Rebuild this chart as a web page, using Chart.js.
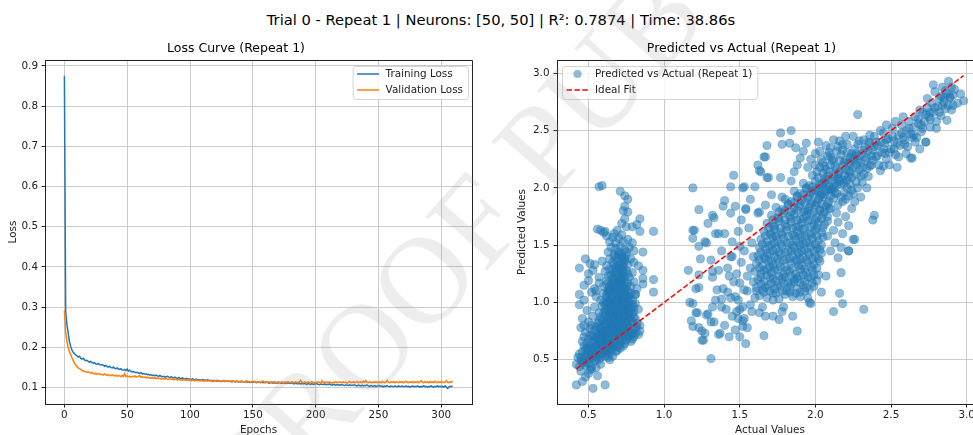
<!DOCTYPE html>
<html>
<head>
<meta charset="utf-8">
<script src="https://cdn.jsdelivr.net/npm/chart.js@4.4.0/dist/chart.umd.min.js"></script>
<style>
  html, body { margin: 0; padding: 0; background: #fff; overflow: hidden; }
  body { width: 973px; height: 435px; position: relative; }
  #suptitle { position: absolute; left: 0; top: 11px; width: 1002px; text-align: center;
    font: 14.7px 'DejaVu Sans', sans-serif; line-height: 18px; color: #000; white-space: nowrap; }
  #lossCanvas { position: absolute; left: 0; top: 0; }
  #scatterCanvas { position: absolute; left: 500px; top: 0; }
  #stamp { position: absolute; left: 121px; top: 181px; font: 124px 'Liberation Serif', serif; line-height: 124px;
    color: rgba(140,140,140,0.16); transform: rotate(-48.5deg); transform-origin: center; white-space: nowrap;
    pointer-events: none; }
</style>
</head>
<body>
<div id="suptitle">Trial 0 - Repeat 1 | Neurons: [50, 50] | R²: 0.7874 | Time: 38.86s</div>
<canvas id="lossCanvas" width="500" height="445"></canvas>
<canvas id="scatterCanvas" width="502" height="445"></canvas>
<div id="stamp">PROOF PUB</div>
<script>
// ---- data ----
const trainLoss = [
  0.876,0.287,0.258,0.236,0.214,0.203,0.193,0.188,0.184,0.181,
  0.179,0.176,0.178,0.173,0.171,0.173,0.169,0.167,0.168,0.165,
  0.163,0.165,0.162,0.160,0.162,0.159,0.158,0.160,0.157,0.156,
  0.157,0.155,0.153,0.155,0.152,0.151,0.153,0.150,0.149,0.151,
  0.148,0.147,0.149,0.146,0.145,0.147,0.144,0.143,0.145,0.142,
  0.146,0.141,0.143,0.140,0.139,0.140,0.138,0.137,0.138,0.136,
  0.135,0.137,0.134,0.135,0.133,0.134,0.132,0.133,0.131,0.132,
  0.130,0.131,0.129,0.131,0.129,0.128,0.130,0.128,0.127,0.128,
  0.126,0.127,0.128,0.126,0.125,0.127,0.125,0.124,0.126,0.124,
  0.123,0.125,0.123,0.122,0.124,0.122,0.121,0.123,0.121,0.122,
  0.121,0.120,0.122,0.120,0.119,0.121,0.119,0.120,0.118,0.119,
  0.120,0.118,0.119,0.117,0.119,0.118,0.117,0.118,0.116,0.118,
  0.117,0.116,0.118,0.116,0.117,0.115,0.117,0.116,0.115,0.117,
  0.116,0.115,0.116,0.114,0.116,0.115,0.114,0.116,0.114,0.115,
  0.114,0.116,0.114,0.113,0.115,0.114,0.113,0.115,0.113,0.114,
  0.113,0.115,0.113,0.112,0.114,0.113,0.112,0.114,0.112,0.113,
  0.112,0.114,0.112,0.111,0.113,0.112,0.111,0.113,0.111,0.112,
  0.111,0.113,0.111,0.110,0.112,0.111,0.110,0.112,0.110,0.111,
  0.110,0.112,0.110,0.109,0.111,0.110,0.109,0.111,0.109,0.110,
  0.109,0.111,0.109,0.108,0.110,0.109,0.108,0.110,0.108,0.109,
  0.109,0.110,0.108,0.107,0.109,0.108,0.107,0.109,0.107,0.108,
  0.107,0.109,0.107,0.106,0.108,0.107,0.106,0.108,0.106,0.107,
  0.106,0.108,0.106,0.105,0.107,0.106,0.105,0.107,0.105,0.106,
  0.106,0.107,0.105,0.104,0.106,0.105,0.104,0.106,0.104,0.105,
  0.105,0.106,0.104,0.103,0.105,0.104,0.103,0.105,0.103,0.104,
  0.104,0.105,0.103,0.104,0.102,0.104,0.103,0.105,0.103,0.102,
  0.104,0.103,0.102,0.104,0.103,0.102,0.104,0.102,0.103,0.104,
  0.102,0.103,0.104,0.102,0.103,0.101,0.103,0.104,0.102,0.103,
  0.102,0.104,0.103,0.101,0.103,0.102,0.104,0.102,0.103,0.101,
  0.103,0.102,0.104,0.102,0.101,0.103,0.102,0.104,0.102,0.103,
  0.102,0.103,0.101,0.104,0.102,0.098,0.101,0.103,0.102,0.104
];
const valLoss = [
  0.292,0.238,0.214,0.200,0.190,0.182,0.174,0.167,0.161,0.156,
  0.152,0.149,0.147,0.145,0.143,0.141,0.140,0.139,0.138,0.139,
  0.137,0.136,0.138,0.135,0.134,0.136,0.133,0.134,0.135,0.132,
  0.133,0.131,0.134,0.132,0.130,0.132,0.131,0.129,0.132,0.130,
  0.129,0.131,0.128,0.130,0.129,0.127,0.130,0.128,0.135,0.127,
  0.129,0.127,0.128,0.126,0.128,0.127,0.129,0.126,0.127,0.128,
  0.130,0.125,0.127,0.125,0.126,0.124,0.126,0.124,0.125,0.123,
  0.125,0.123,0.124,0.122,0.124,0.122,0.123,0.121,0.123,0.122,
  0.121,0.123,0.121,0.120,0.122,0.120,0.121,0.119,0.121,0.120,
  0.119,0.121,0.119,0.120,0.118,0.120,0.119,0.118,0.120,0.118,
  0.119,0.117,0.119,0.118,0.117,0.119,0.117,0.118,0.116,0.118,
  0.117,0.116,0.118,0.117,0.116,0.118,0.116,0.117,0.115,0.117,
  0.116,0.118,0.116,0.115,0.117,0.115,0.116,0.118,0.115,0.116,
  0.115,0.117,0.115,0.116,0.114,0.116,0.115,0.117,0.115,0.114,
  0.116,0.114,0.115,0.113,0.115,0.117,0.114,0.115,0.113,0.115,
  0.114,0.116,0.114,0.113,0.115,0.114,0.113,0.115,0.116,0.114,
  0.113,0.115,0.113,0.114,0.112,0.114,0.113,0.115,0.113,0.112,
  0.114,0.113,0.112,0.114,0.113,0.112,0.114,0.113,0.115,0.113,
  0.112,0.114,0.113,0.112,0.114,0.113,0.112,0.114,0.118,0.113,
  0.112,0.114,0.113,0.112,0.114,0.112,0.113,0.115,0.113,0.112,
  0.113,0.112,0.114,0.113,0.111,0.117,0.113,0.112,0.114,0.113,
  0.112,0.114,0.113,0.111,0.113,0.112,0.114,0.113,0.112,0.114,
  0.113,0.112,0.114,0.112,0.113,0.111,0.113,0.115,0.112,0.113,
  0.114,0.112,0.113,0.115,0.112,0.113,0.114,0.112,0.116,0.113,
  0.117,0.113,0.112,0.114,0.113,0.112,0.114,0.113,0.115,0.112,
  0.113,0.114,0.112,0.115,0.113,0.112,0.114,0.118,0.113,0.112,
  0.114,0.113,0.115,0.112,0.114,0.113,0.112,0.115,0.113,0.114,
  0.112,0.114,0.116,0.113,0.112,0.114,0.113,0.115,0.112,0.114,
  0.113,0.115,0.112,0.114,0.117,0.113,0.112,0.115,0.113,0.114,
  0.112,0.115,0.113,0.114,0.112,0.116,0.113,0.112,0.114,0.113,
  0.115,0.113,0.112,0.114,0.117,0.113,0.112,0.114,0.113,0.116
];
const epochTicks = [0, 50, 100, 150, 200, 250, 300];
const lossTicks = [0.1, 0.2, 0.3, 0.4, 0.5, 0.6, 0.7, 0.8, 0.9];

// [actual, predicted]
const predVsActual = [
  // low group
  [0.42,0.28],[0.46,0.31],[0.53,0.25],[0.61,0.28],[0.56,0.36],[0.50,0.38],[0.45,0.40],[0.52,0.42],[0.48,0.35],
  [0.42,0.46],[0.44,0.44],[0.46,0.48],[0.48,0.45],[0.50,0.47],[0.52,0.44],[0.54,0.49],[0.47,0.50],[0.51,0.41],
  [0.55,0.43],[0.58,0.46],[0.45,0.49],[0.49,0.52],[0.43,0.52],
  [0.44,0.55],[0.46,0.57],[0.48,0.54],[0.50,0.58],[0.52,0.53],[0.53,0.57],[0.55,0.55],[0.56,0.59],[0.58,0.52],
  [0.60,0.56],[0.62,0.58],[0.57,0.50],[0.49,0.60],[0.47,0.62],[0.51,0.62],[0.54,0.61],[0.59,0.60],[0.61,0.53],
  [0.63,0.55],[0.65,0.59],[0.64,0.50],[0.68,0.57],[0.66,0.53],
  [0.46,0.66],[0.50,0.68],[0.52,0.65],[0.53,0.70],[0.55,0.64],[0.56,0.68],[0.57,0.62],[0.58,0.66],[0.59,0.70],
  [0.60,0.63],[0.61,0.67],[0.62,0.61],[0.63,0.69],[0.64,0.64],[0.65,0.67],[0.66,0.62],[0.67,0.70],[0.68,0.65],
  [0.69,0.61],[0.70,0.68],[0.71,0.63],[0.72,0.67],[0.74,0.64],[0.76,0.69],[0.78,0.66],[0.47,0.70],[0.49,0.64],
  [0.54,0.67],[0.80,0.70],
  [0.45,0.78],[0.48,0.74],[0.51,0.77],[0.53,0.72],[0.55,0.79],[0.56,0.74],[0.57,0.71],[0.58,0.77],[0.59,0.73],
  [0.60,0.79],[0.61,0.72],[0.62,0.76],[0.63,0.71],[0.64,0.78],[0.65,0.73],[0.66,0.77],[0.67,0.72],[0.68,0.79],
  [0.69,0.74],[0.70,0.71],[0.71,0.77],[0.72,0.73],[0.73,0.79],[0.74,0.75],[0.75,0.71],[0.76,0.78],[0.77,0.74],
  [0.79,0.76],[0.81,0.73],[0.82,0.79],[0.84,0.75],[0.47,0.80],[0.52,0.80],
  [0.46,0.86],[0.50,0.83],[0.53,0.88],[0.56,0.82],[0.58,0.87],[0.60,0.84],[0.61,0.89],[0.62,0.81],[0.63,0.86],
  [0.64,0.83],[0.65,0.88],[0.66,0.81],[0.67,0.85],[0.68,0.89],[0.69,0.82],[0.70,0.87],[0.71,0.84],[0.72,0.80],
  [0.73,0.88],[0.74,0.83],[0.75,0.86],[0.76,0.81],[0.77,0.89],[0.78,0.84],[0.80,0.87],[0.82,0.82],[0.84,0.80],
  [0.79,0.90],
  [0.44,0.98],[0.49,0.93],[0.54,0.96],[0.57,0.91],[0.59,0.97],[0.61,0.93],[0.62,0.99],[0.63,0.92],[0.64,0.96],
  [0.65,0.90],[0.66,0.98],[0.67,0.94],[0.68,0.91],[0.69,0.97],[0.70,0.93],[0.71,0.99],[0.72,0.95],[0.73,0.91],
  [0.74,0.97],[0.75,0.93],[0.76,0.99],[0.77,0.95],[0.78,0.92],[0.80,0.96],[0.81,0.99],[0.83,0.94],[0.60,1.00],
  [0.44,1.07],[0.47,1.02],[0.55,1.05],[0.58,1.02],[0.60,1.08],[0.62,1.04],[0.63,1.09],[0.64,1.01],[0.65,1.06],
  [0.66,1.03],[0.67,1.08],[0.68,1.00],[0.69,1.05],[0.70,1.02],[0.71,1.07],[0.72,1.04],[0.73,1.09],[0.74,1.01],
  [0.75,1.06],[0.76,1.03],[0.78,1.08],[0.79,1.02],[0.81,1.07],[0.55,1.10],[0.52,1.09],
  [0.47,1.15],[0.50,1.19],[0.54,1.12],[0.57,1.17],[0.60,1.14],[0.62,1.19],[0.63,1.11],[0.65,1.16],[0.66,1.13],
  [0.67,1.18],[0.68,1.12],[0.69,1.17],[0.70,1.14],[0.71,1.10],[0.72,1.19],[0.73,1.15],[0.74,1.12],[0.76,1.17],
  [0.78,1.14],[0.80,1.18],[0.82,1.12],[0.86,1.16],
  [0.50,1.25],[0.53,1.28],[0.57,1.22],[0.61,1.27],[0.63,1.23],[0.64,1.29],[0.66,1.21],[0.67,1.26],[0.69,1.24],
  [0.70,1.29],[0.71,1.21],[0.72,1.27],[0.73,1.23],[0.75,1.28],[0.77,1.22],[0.79,1.26],[0.86,1.21],[0.86,1.28],
  [0.93,1.20],[0.44,1.30],[0.51,1.34],[0.93,1.09],[0.81,1.07],
  [0.48,1.38],[0.54,1.33],[0.59,1.36],[0.62,1.32],[0.64,1.38],[0.66,1.35],[0.68,1.31],[0.69,1.39],[0.71,1.34],
  [0.72,1.37],[0.73,1.31],[0.74,1.36],[0.76,1.33],[0.78,1.38],[0.80,1.35],[0.83,1.32],
  [0.63,1.44],[0.65,1.48],[0.67,1.42],[0.68,1.47],[0.70,1.44],[0.71,1.49],[0.72,1.42],[0.74,1.46],[0.75,1.41],
  [0.77,1.48],[0.86,1.44],[0.80,1.45],
  [0.64,1.53],[0.66,1.57],[0.68,1.52],[0.70,1.56],[0.72,1.59],[0.73,1.53],[0.76,1.55],[0.62,1.58],[0.79,1.52],
  [0.57,2.01],[0.59,2.02],[0.71,1.97],[0.74,1.93],[0.76,1.90],[0.74,1.84],[0.73,1.80],[0.76,1.79],[0.84,1.73],
  [0.74,1.73],[0.56,1.64],[0.58,1.63],[0.61,1.62],[0.69,1.63],[0.82,1.68],[0.84,1.62],[0.93,1.62],[0.72,1.69],
  [0.75,1.66],[0.79,1.66],[0.60,1.61],[0.67,1.60],
  // low group, dense core
  [0.47,0.47],[0.49,0.49],[0.51,0.51],[0.53,0.52],[0.55,0.50],[0.57,0.54],[0.59,0.55],[0.61,0.57],[0.63,0.52],
  [0.50,0.55],[0.45,0.52],[0.54,0.56],
  [0.48,0.59],[0.52,0.60],[0.55,0.62],[0.57,0.58],[0.59,0.63],[0.61,0.60],[0.63,0.62],[0.65,0.57],[0.67,0.61],
  [0.69,0.58],[0.71,0.60],[0.73,0.62],[0.56,0.56],[0.60,0.58],[0.64,0.60],
  [0.51,0.71],[0.55,0.69],[0.57,0.66],[0.59,0.68],[0.61,0.70],[0.63,0.66],[0.65,0.70],[0.67,0.67],[0.69,0.71],
  [0.71,0.66],[0.73,0.70],[0.75,0.67],[0.77,0.71],[0.79,0.68],[0.58,0.72],[0.62,0.64],[0.66,0.65],
  [0.54,0.76],[0.57,0.78],[0.59,0.75],[0.61,0.79],[0.63,0.75],[0.65,0.78],[0.67,0.75],[0.69,0.78],[0.71,0.74],
  [0.73,0.77],[0.75,0.74],[0.77,0.78],[0.79,0.73],[0.81,0.77],[0.83,0.72],[0.60,0.73],[0.66,0.80],[0.70,0.80],
  [0.59,0.85],[0.61,0.82],[0.63,0.84],[0.65,0.81],[0.67,0.87],[0.69,0.85],[0.71,0.82],[0.73,0.85],[0.75,0.82],
  [0.77,0.86],[0.79,0.83],[0.81,0.86],[0.57,0.84],[0.64,0.88],[0.70,0.88],[0.74,0.88],
  [0.60,0.91],[0.62,0.94],[0.64,0.90],[0.66,0.94],[0.68,0.96],[0.70,0.90],[0.72,0.92],[0.74,0.94],[0.76,0.91],
  [0.78,0.95],[0.80,0.92],[0.65,0.96],[0.69,0.93],[0.73,0.95],
  [0.61,0.98],[0.63,1.01],[0.65,0.98],[0.67,1.00],[0.69,1.02],[0.71,0.97],[0.73,1.00],[0.75,0.98],[0.77,1.01],
  [0.79,0.98],[0.64,1.03],[0.68,0.97],[0.72,1.03],[0.76,1.04],
  [0.62,1.07],[0.64,1.10],[0.66,1.07],[0.68,1.09],[0.70,1.06],[0.72,1.10],[0.74,1.07],[0.76,1.10],[0.65,1.12],
  [0.69,1.12],[0.73,1.12],[0.77,1.06],
  [0.64,1.14],[0.66,1.17],[0.68,1.15],[0.70,1.18],[0.72,1.15],[0.74,1.18],[0.75,1.14],[0.67,1.20],[0.71,1.20],
  [0.62,1.16],
  [0.65,1.24],[0.68,1.27],[0.70,1.23],[0.72,1.25],[0.74,1.22],[0.76,1.25],[0.66,1.29],[0.71,1.30],[0.73,1.28],
  [0.67,1.33],[0.69,1.36],[0.70,1.32],[0.72,1.40],[0.74,1.38],[0.67,1.40],[0.70,1.42],[0.75,1.44],[0.73,1.34],
  // middle group, sparse left side
  [1.31,0.51],[1.18,0.84],[1.19,0.79],[1.23,0.78],[1.25,0.75],[1.26,0.67],[1.27,0.73],[1.31,0.83],[1.22,0.91],
  [1.28,0.89],[1.33,0.83],[1.36,0.72],[1.17,1.00],[1.21,1.12],[1.23,1.24],[1.16,1.28],[1.24,1.38],[1.31,1.37],
  [1.32,1.22],[1.32,0.96],[1.34,1.02],[1.35,1.11],[1.38,0.96],[1.38,1.03],[1.44,1.04],[1.42,1.09],[1.49,1.02],
  [1.48,0.92],[1.49,0.86],[1.54,0.64],[1.43,1.23],[1.50,1.17],[1.45,1.40],[1.19,1.56],[1.23,1.49],[1.28,1.52],
  [1.34,1.60],[1.19,1.63],[1.19,2.00],[1.23,1.81],[1.20,1.63],[1.27,1.53],[1.32,1.27],[1.23,1.13],[1.19,0.99],
  [1.21,0.91],[1.25,0.67],[1.29,0.90],[1.37,0.73],[1.66,0.71],[1.29,1.69],[1.32,1.76],[1.33,1.74],[1.36,1.60],
  [1.39,1.84],[1.40,1.89],[1.44,1.78],[1.47,1.84],[1.46,2.11],[1.44,2.01],[1.52,2.00],[1.57,1.90],[1.62,1.78],
  [1.54,1.81],[1.51,1.72],[1.53,2.01],[1.60,2.01],[1.54,1.82],[1.63,1.79],[1.67,1.85],
  [1.40,0.80],[1.43,0.70],[1.45,0.88],[1.47,0.76],[1.50,0.70],[1.52,0.84],[1.55,0.78],[1.57,0.98],[1.41,0.94],
  [1.39,1.12],[1.42,1.30],[1.46,1.18],[1.48,1.25],[1.51,1.35],[1.53,1.45],[1.55,1.23],[1.57,1.30],[1.58,1.52],
  [1.45,1.53],[1.38,1.45],[1.36,1.28],[1.40,1.60],[1.49,1.62],[1.56,1.65],[1.59,1.40],[1.55,1.10],[1.59,1.18],
  [1.47,1.05],[1.44,1.40],[1.50,1.49],
  [1.53,1.11],[1.60,1.04],[1.65,0.96],[1.63,0.91],[1.72,0.88],[1.76,0.85],[1.67,0.88],[1.78,0.92],[1.72,1.02],
  [1.79,0.96],[1.90,1.05],[1.96,1.00],[1.52,0.79],[1.53,0.86],[1.58,0.92],[1.61,1.10],[1.52,0.96],[1.50,0.94],
  [1.88,0.75],[1.85,0.88],[2.12,0.92],[2.32,0.94],[2.18,0.99],[1.97,0.99],[2.04,1.09],[2.16,1.08],[2.17,1.26],
  [2.07,1.23],[2.15,1.39],[2.22,1.45],[2.25,1.55],
  // middle group, upper sparse
  [1.77,2.48],[1.84,2.50],[1.78,2.38],[1.83,2.39],[1.87,2.35],[1.94,2.39],[2.02,2.40],[1.68,2.37],[1.66,2.27],
  [1.62,2.20],[1.63,2.15],[1.68,2.09],[1.77,2.09],[1.84,2.06],[1.71,1.94],[1.78,1.92],[1.86,2.14],[1.69,2.09],
  [1.67,2.27],[1.64,2.14],[1.90,2.26],[1.97,2.25],[1.92,2.32],[2.00,2.30],[1.88,2.20],[1.95,2.18],
  // middle group, dense core
  [1.63,1.06],[1.68,1.04],[1.72,1.08],[1.76,1.03],[1.80,1.07],[1.85,1.05],[1.90,1.09],[1.95,1.04],
  [1.61,1.13],[1.65,1.11],[1.69,1.15],[1.73,1.12],[1.77,1.14],[1.81,1.10],[1.84,1.16],[1.88,1.12],[1.92,1.15],
  [1.96,1.11],[1.99,1.14],
  [1.62,1.20],[1.66,1.18],[1.70,1.22],[1.74,1.19],[1.78,1.21],[1.82,1.17],[1.86,1.20],[1.89,1.23],[1.93,1.18],
  [1.97,1.21],[2.01,1.19],
  [1.60,1.27],[1.64,1.25],[1.68,1.29],[1.71,1.26],[1.75,1.28],[1.79,1.24],[1.83,1.27],[1.87,1.25],[1.90,1.29],
  [1.94,1.26],[1.98,1.28],[2.02,1.24],
  [1.61,1.34],[1.65,1.32],[1.69,1.36],[1.72,1.33],[1.76,1.35],[1.80,1.31],[1.84,1.34],[1.88,1.36],[1.91,1.32],
  [1.95,1.35],[1.99,1.33],[2.03,1.36],
  [1.62,1.41],[1.66,1.39],[1.70,1.43],[1.73,1.40],[1.77,1.42],[1.81,1.38],[1.85,1.41],[1.89,1.43],[1.92,1.39],
  [1.96,1.42],[2.00,1.40],[2.04,1.43],
  [1.63,1.48],[1.67,1.46],[1.71,1.50],[1.74,1.47],[1.78,1.49],[1.82,1.45],[1.86,1.48],[1.90,1.50],[1.93,1.46],
  [1.97,1.49],[2.01,1.47],
  [1.64,1.55],[1.68,1.53],[1.72,1.57],[1.75,1.54],[1.79,1.56],[1.83,1.52],[1.87,1.55],[1.91,1.57],[1.94,1.53],
  [1.98,1.56],[2.02,1.54],
  [1.66,1.62],[1.70,1.60],[1.73,1.64],[1.77,1.61],[1.81,1.63],[1.85,1.59],[1.88,1.62],[1.92,1.64],[1.96,1.60],
  [2.00,1.63],[2.04,1.61],
  [1.68,1.69],[1.72,1.67],[1.76,1.71],[1.80,1.68],[1.84,1.70],[1.87,1.66],[1.91,1.69],[1.95,1.71],[1.99,1.67],
  [2.02,1.70],[2.06,1.68],
  [1.71,1.76],[1.75,1.74],[1.79,1.78],[1.83,1.75],[1.86,1.77],[1.90,1.73],[1.94,1.76],[1.97,1.78],[2.01,1.74],
  [2.05,1.77],[2.08,1.75],
  [1.74,1.83],[1.78,1.81],[1.82,1.85],[1.86,1.82],[1.89,1.84],[1.93,1.80],[1.96,1.83],[2.00,1.85],[2.03,1.81],
  [2.07,1.84],[2.10,1.82],
  [1.80,1.90],[1.84,1.88],[1.88,1.92],[1.91,1.89],[1.95,1.91],[1.98,1.87],[2.02,1.90],[2.05,1.92],[2.09,1.88],
  [2.12,1.91],
  [1.86,1.97],[1.90,1.95],[1.94,1.99],[1.97,1.96],[2.00,1.98],[2.04,1.94],[2.07,1.97],[2.10,1.99],[2.14,1.95],
  [1.92,2.04],[1.96,2.02],[2.00,2.06],[2.03,2.03],[2.06,2.05],[2.09,2.01],[2.13,2.04],[2.16,2.06],
  [1.98,2.11],[2.02,2.09],[2.05,2.13],[2.08,2.10],[2.12,2.12],[2.15,2.08],[2.19,2.11],
  [2.03,2.18],[2.07,2.16],[2.10,2.20],[2.14,2.17],[2.18,2.19],[2.22,2.15],
  [2.08,1.58],[2.12,1.63],[2.15,1.70],[2.18,1.60],[2.20,1.75],[2.13,1.52],[2.10,1.45],[2.17,1.48],[2.22,1.67],
  [2.24,1.82],[2.14,1.78],[2.18,1.88],[2.22,1.93],
  [1.66,1.09],[1.70,1.10],[1.74,1.08],[1.78,1.10],[1.83,1.09],[1.87,1.08],[1.93,1.10],
  [1.64,1.16],[1.67,1.13],[1.71,1.17],[1.75,1.15],[1.79,1.17],[1.83,1.13],[1.86,1.18],[1.90,1.17],[1.94,1.13],
  [1.98,1.17],
  [1.64,1.22],[1.68,1.24],[1.72,1.21],[1.76,1.23],[1.80,1.22],[1.84,1.23],[1.88,1.21],[1.92,1.24],[1.95,1.22],
  [1.99,1.24],
  [1.63,1.30],[1.66,1.28],[1.70,1.31],[1.73,1.29],[1.77,1.31],[1.81,1.28],[1.85,1.30],[1.89,1.32],[1.93,1.29],
  [1.97,1.31],[2.01,1.30],
  [1.63,1.37],[1.67,1.38],[1.71,1.36],[1.75,1.38],[1.79,1.37],[1.83,1.38],[1.87,1.37],[1.90,1.38],[1.94,1.37],
  [1.98,1.38],[2.02,1.38],
  [1.64,1.44],[1.68,1.43],[1.72,1.45],[1.76,1.44],[1.80,1.44],[1.84,1.45],[1.88,1.44],[1.91,1.45],[1.95,1.44],
  [1.99,1.45],[2.03,1.46],
  [1.65,1.51],[1.69,1.50],[1.73,1.52],[1.77,1.51],[1.81,1.52],[1.85,1.50],[1.89,1.52],[1.92,1.51],[1.96,1.52],
  [2.00,1.51],[2.04,1.50],
  [1.67,1.58],[1.71,1.59],[1.74,1.58],[1.78,1.59],[1.82,1.58],[1.86,1.58],[1.90,1.59],[1.93,1.58],[1.97,1.59],
  [2.01,1.58],[2.05,1.57],
  [1.69,1.65],[1.73,1.66],[1.77,1.65],[1.81,1.66],[1.85,1.65],[1.89,1.66],[1.93,1.65],[1.97,1.66],[2.01,1.65],
  [2.05,1.65],
  [1.72,1.72],[1.76,1.73],[1.80,1.72],[1.84,1.73],[1.88,1.72],[1.92,1.73],[1.96,1.72],[2.00,1.72],[2.04,1.73],
  [2.08,1.71],
  [1.76,1.79],[1.80,1.80],[1.84,1.79],[1.88,1.80],[1.92,1.79],[1.95,1.80],[1.99,1.79],[2.03,1.80],[2.06,1.79],
  [1.82,1.86],[1.86,1.87],[1.90,1.86],[1.93,1.87],[1.97,1.86],[2.01,1.87],[2.04,1.86],[2.08,1.86],
  [1.88,1.93],[1.92,1.94],[1.96,1.93],[1.99,1.94],[2.03,1.93],[2.06,1.94],[2.10,1.93],
  [1.94,2.00],[1.98,2.01],[2.02,2.00],[2.05,2.01],[2.08,1.99],[2.12,2.00],
  [2.01,2.14],[2.04,2.25],[2.06,2.19],[2.09,2.31],[2.11,2.24],[2.13,2.10],[2.15,2.36],[2.17,2.29],[2.19,2.04],
  [2.21,2.38],[2.23,2.27],[2.24,2.09],[2.26,2.34],[2.27,2.20],[2.29,2.41],[2.30,2.10],[2.07,2.37],[2.12,2.42],
  [2.20,2.45],[2.02,1.97],[2.05,2.04],[2.08,2.07],[2.11,1.98],[2.14,2.02],[2.16,2.14],[2.18,2.07],[2.20,1.90],
  [2.23,2.03],[2.25,1.95],[2.27,2.30],[2.00,2.20],[2.03,2.32],[2.10,2.27],[2.18,2.33],[2.22,2.22],[2.28,2.24],
  [2.32,2.33],[2.34,2.17],[2.36,2.39],[2.38,2.24],
  // high group along the diagonal
  [2.20,2.24],[2.22,2.10],[2.24,2.30],[2.25,2.18],[2.27,2.05],[2.28,2.38],[2.30,2.22],[2.31,2.30],[2.32,2.12],
  [2.34,2.26],[2.35,2.40],[2.36,2.19],[2.38,2.33],[2.39,2.45],[2.40,2.27],[2.41,2.37],[2.42,2.20],[2.44,2.31],
  [2.45,2.48],[2.46,2.39],[2.47,2.25],[2.48,2.43],[2.50,2.34],[2.51,2.52],[2.52,2.41],[2.53,2.29],[2.55,2.46],
  [2.56,2.37],[2.57,2.55],[2.58,2.44],[2.60,2.50],[2.61,2.36],[2.62,2.58],[2.63,2.47],[2.64,2.26],[2.65,2.53],
  [2.66,2.62],[2.67,2.44],[2.68,2.56],[2.70,2.49],[2.71,2.66],[2.72,2.58],[2.73,2.40],[2.74,2.70],[2.75,2.62],
  [2.76,2.53],[2.77,2.74],[2.78,2.66],[2.79,2.84],[2.80,2.58],[2.81,2.71],[2.82,2.78],[2.83,2.63],[2.84,2.88],
  [2.85,2.75],[2.86,2.69],[2.87,2.82],[2.88,2.93],[2.89,2.79],[2.90,2.68],[2.92,2.86],[2.94,2.74],[2.96,2.82],
  [2.98,2.76],
  [2.28,2.64],[2.63,2.26],[2.55,2.27],[2.45,2.19],[2.38,1.72],[2.39,1.76],[2.26,1.55],[2.22,1.45],[2.80,2.52],
  [2.87,2.59],[2.78,2.90],[2.89,2.79],[2.73,2.40],
  [2.05,2.22],[2.08,2.28],[2.10,2.35],[2.12,2.25],[2.14,2.32],[2.16,2.24],[2.18,2.38],[2.20,2.16],[2.21,2.31],
  [2.23,2.21],[2.26,2.27],[2.29,2.16],[2.33,2.35],[2.37,2.28],[2.16,2.41],[2.25,2.45],[2.31,2.05],[2.35,2.10],
  [2.28,2.00],[2.24,1.98],[2.19,1.96],[2.30,1.92],[2.26,1.88],[2.34,2.00],[2.43,2.15],[2.49,2.20],[2.54,2.18],
  [2.60,2.30],[2.66,2.40],[2.69,2.34],[2.58,2.62],[2.53,2.58],[2.47,2.55],[2.43,2.50],[2.69,2.68],[2.74,2.78],
  [2.83,2.80],[2.86,2.85],[2.90,2.88],[2.91,2.72],[2.84,2.72],[2.76,2.66],[2.71,2.52],[2.64,2.44],[2.59,2.38],
  [2.52,2.34],[2.46,2.30],[2.40,2.40],[2.36,2.46],[2.32,2.42],
  [2.06,2.08],[2.09,2.14],[2.11,2.06],[2.13,2.19],[2.15,2.12],[2.17,2.03],[2.19,2.22],[2.21,2.07],[2.23,2.14],
  [2.25,2.25],[2.27,2.12],[2.29,2.28],[2.31,2.18],[2.33,2.24],[2.35,2.32],[2.37,2.20],[2.39,2.36],[2.41,2.28],
  [2.43,2.40],[2.45,2.34],[2.47,2.42],[2.49,2.31],[2.51,2.45],[2.54,2.39],[2.57,2.48],[2.59,2.42],[2.62,2.52],
  [2.65,2.46],[2.68,2.60],[2.70,2.55],[2.73,2.64],[2.76,2.60],[2.79,2.70],[2.82,2.66],[2.85,2.79],[2.88,2.72],
  [2.91,2.81],[2.13,1.96],[2.17,1.92],[2.21,2.00],[2.09,1.82],[2.15,1.85]
];
const actualTicks = [0.5, 1.0, 1.5, 2.0, 2.5, 3.0];
const predTicks = [0.5, 1.0, 1.5, 2.0, 2.5, 3.0];

// ---- look ----
Chart.defaults.font.family = "'DejaVu Sans', sans-serif";
Chart.defaults.font.size = 10.4;
Chart.defaults.color = '#222';
Chart.defaults.animation = false;

const GRID = '#cbcbcb';
const INK = '#222';

// top/right spines plus a matplotlib-like boxed legend
const boxLegend = {
  id: 'boxLegend',
  afterDraw(chart, args, o) {
    const { ctx, chartArea: a } = chart;
    ctx.save();
    ctx.strokeStyle = INK;
    ctx.lineWidth = 1;
    ctx.beginPath();
    ctx.moveTo(Math.round(a.left) + 0.5, Math.round(a.top) + 0.5);
    ctx.lineTo(Math.round(a.right) + 0.5, Math.round(a.top) + 0.5);
    ctx.lineTo(Math.round(a.right) + 0.5, Math.round(a.bottom) + 0.5);
    ctx.stroke();

    ctx.font = "10.4px 'DejaVu Sans', sans-serif";
    const tw = Math.max(...o.items.map(it => ctx.measureText(it.text).width));
    const w = 33 + tw + 5, h = 33;
    const x0 = o.side === 'right' ? a.right - 4 - w : a.left + 5;
    const y0 = a.top + 6;
    ctx.beginPath();
    ctx.roundRect(x0 + 0.5, y0 + 0.5, w, h, 3);
    ctx.fillStyle = 'rgba(255,255,255,0.8)';
    ctx.fill();
    ctx.strokeStyle = '#d4d4d4';
    ctx.stroke();

    o.items.forEach((it, i) => {
      const cy = y0 + 8 + i * 16;
      const hx = x0 + 4.5;
      if (it.kind === 'dot') {
        ctx.beginPath();
        ctx.arc(hx + 11, cy, 4.1, 0, Math.PI * 2);
        ctx.fillStyle = it.color;
        ctx.fill();
      } else {
        ctx.beginPath();
        ctx.setLineDash(it.dash || []);
        ctx.strokeStyle = it.color;
        ctx.lineWidth = 1.5;
        ctx.moveTo(hx, cy);
        ctx.lineTo(hx + 22, cy);
        ctx.stroke();
        ctx.setLineDash([]);
      }
      ctx.fillStyle = INK;
      ctx.textBaseline = 'middle';
      ctx.textAlign = 'left';
      ctx.fillText(it.text, x0 + 33, cy);
    });
    ctx.restore();
  }
};

function fixedTicks(list) {
  return s => { s.ticks = list.map(v => ({ value: v })); };
}
function padRange(vals) {
  const lo = Math.min(...vals), hi = Math.max(...vals), m = (hi - lo) * 0.05;
  return [lo - m, hi + m];
}
function axis(extra) {
  return Object.assign({
    type: 'linear',
    grid: { color: GRID, lineWidth: 1, tickColor: INK, tickLength: 3.5, tickWidth: 1 },
    border: { color: INK, width: 1 }
  }, extra);
}

// ---- loss curve ----
const epochs = trainLoss.map((_, i) => i);
const [exLo, exHi] = padRange(epochs);
const [lyLo, lyHi] = padRange(trainLoss.concat(valLoss));

new Chart(document.getElementById('lossCanvas'), {
  type: 'line',
  data: {
    datasets: [
      { label: 'Training Loss', data: trainLoss.map((v, i) => ({ x: epochs[i], y: v })),
        borderColor: '#1f77b4', borderWidth: 1.5, pointRadius: 0, tension: 0, order: 1 },
      { label: 'Validation Loss', data: valLoss.map((v, i) => ({ x: epochs[i], y: v })),
        borderColor: '#ff7f0e', borderWidth: 1.5, pointRadius: 0, tension: 0, order: 0 }
    ]
  },
  options: {
    responsive: false,
    devicePixelRatio: 1,
    layout: { padding: { left: 0, right: 28, top: 0, bottom: 0 } },
    plugins: {
      legend: { display: false },
      tooltip: { enabled: false },
      title: { display: true, text: 'Loss Curve (Repeat 1)', color: '#000',
        font: { size: 12.5, weight: 'normal' }, padding: { top: 41.5, bottom: 3.5 } },
      boxLegend: { side: 'right', items: [
        { kind: 'line', color: '#1f77b4', text: 'Training Loss' },
        { kind: 'line', color: '#ff7f0e', text: 'Validation Loss' }
      ] }
    },
    scales: {
      x: axis({ min: exLo, max: exHi, afterBuildTicks: fixedTicks(epochTicks),
        afterFit: s => { s.height = 41; },
        ticks: { padding: 2, maxRotation: 0, callback: v => String(v) },
        title: { display: true, text: 'Epochs', padding: { top: 0, bottom: 8.75 } } }),
      y: axis({ min: lyLo, max: lyHi, afterBuildTicks: fixedTicks(lossTicks),
        afterFit: s => { s.width = 45; },
        ticks: { padding: 3.5, callback: v => v.toFixed(1) },
        title: { display: true, text: 'Loss', padding: { top: 6.75, bottom: 0 } } })
    }
  },
  plugins: [boxLegend]
});

// ---- predicted vs actual ----
const actual = predVsActual.map(p => p[0]);
const predicted = predVsActual.map(p => p[1]);
const fitLo = Math.min(...actual), fitHi = Math.max(...actual);
const [sxLo, sxHi] = padRange(actual);
const [syLo, syHi] = padRange(predicted.concat([fitLo, fitHi]));
const DOT = 'rgba(31,119,180,0.5)';

new Chart(document.getElementById('scatterCanvas'), {
  type: 'scatter',
  data: {
    datasets: [
      { label: 'Ideal Fit', type: 'line', data: [{ x: fitLo, y: fitLo }, { x: fitHi, y: fitHi }],
        borderColor: '#ff0000', borderWidth: 1.5, borderDash: [5.5, 2.4], pointRadius: 0, order: 0 },
      { label: 'Predicted vs Actual (Repeat 1)', data: predVsActual.map(p => ({ x: p[0], y: p[1] })),
        backgroundColor: DOT, borderColor: DOT, borderWidth: 0.7, pointRadius: 4.1, order: 1 }
    ]
  },
  options: {
    responsive: false,
    devicePixelRatio: 1,
    layout: { padding: { left: 0, right: 19, top: 0, bottom: 0 } },
    plugins: {
      legend: { display: false },
      tooltip: { enabled: false },
      title: { display: true, text: 'Predicted vs Actual (Repeat 1)', color: '#000',
        font: { size: 12.5, weight: 'normal' }, padding: { top: 41.5, bottom: 3.5 } },
      boxLegend: { side: 'left', items: [
        { kind: 'dot', color: DOT, text: 'Predicted vs Actual (Repeat 1)' },
        { kind: 'line', color: '#ff0000', dash: [5.5, 2.4], text: 'Ideal Fit' }
      ] }
    },
    scales: {
      x: axis({ min: sxLo, max: sxHi, afterBuildTicks: fixedTicks(actualTicks),
        afterFit: s => { s.height = 41; },
        ticks: { padding: 2, maxRotation: 0, callback: v => v.toFixed(1) },
        title: { display: true, text: 'Actual Values', padding: { top: 0, bottom: 8.75 } } }),
      y: axis({ min: syLo, max: syHi, afterBuildTicks: fixedTicks(predTicks),
        afterFit: s => { s.width = 57; },
        ticks: { padding: 4, callback: v => v.toFixed(1) },
        title: { display: true, text: 'Predicted Values', padding: { top: 15.75, bottom: 0 } } })
    }
  },
  plugins: [boxLegend]
});
</script>
</body>
</html>
